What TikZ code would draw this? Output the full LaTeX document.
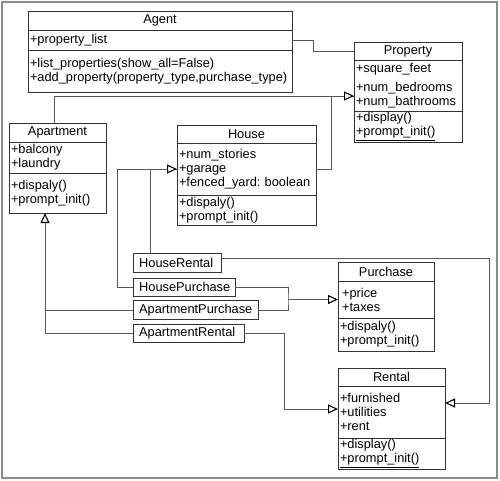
\documentclass[tikz,border=0pt]{standalone}
\usepackage{fontspec}
\setmainfont{Liberation Sans}
\usetikzlibrary{positioning,arrows.meta}

\tikzset{
  umltitle/.style={draw=black!80, anchor=north west, inner sep=0pt, outer sep=0pt, align=center},
  umlpart/.style={draw=black!80, below=0pt of #1, inner xsep=2pt, inner ysep=0pt, outer sep=0pt, align=left},
  plainbox/.style={draw=black!80, anchor=north west, inner xsep=6pt, inner ysep=0pt, align=left},
  assoc/.style={draw=black!65},
  inherit/.style={draw=black!65, -{Triangle[open, fill=white, color=black, line width=1.1pt, length=10pt, width=9pt]}},
}

\begin{document}
\begin{tikzpicture}
  [x=1pt, y=-1pt, font=\fontsize{12.8pt}{14pt}\selectfont]
  \useasboundingbox (0,0) rectangle (500,481);
  \draw[black!45, line width=1.5pt] (2,2) rectangle (497,478);

  \node[umltitle, minimum width=264pt, minimum height=19pt] (agent) at (28,11) {Agent};
  \node[umlpart=agent, text width=260pt, minimum height=20pt] (agent-a) {+property\_list};
  \node[umlpart=agent-a, text width=260pt, minimum height=42pt] (agent-m)
    {+list\_properties(show\_all=False)\\+add\_property(property\_type,purchase\_type)};

  \node[umltitle, minimum width=108pt, minimum height=18pt] (property) at (354,42) {Property};
  \node[umlpart=property, text width=104pt, minimum height=51pt] (property-a)
    {+square\_feet\\[5pt]+num\_bedrooms\\+num\_bathrooms};
  \node[umlpart=property-a, text width=104pt, minimum height=31pt] (property-m)
    {+display()\\\underline{+prompt\_init()}};

  \node[umltitle, minimum width=97pt, minimum height=19pt] (apartment) at (9,123) {Apartment};
  \node[umlpart=apartment, text width=93pt, minimum height=31pt] (apartment-a)
    {+balcony\\+laundry};
  \node[umlpart=apartment-a, text width=93pt, minimum height=40pt] (apartment-m)
    {+dispaly()\\+prompt\_init()};

  \node[umltitle, minimum width=139pt, minimum height=18pt] (house) at (177,125) {House};
  \node[umlpart=house, text width=135pt, minimum height=52pt] (house-a)
    {+num\_stories\\+garage\\+fenced\_yard:\ boolean};
  \node[umlpart=house-a, text width=135pt, minimum height=30pt] (house-m)
    {+dispaly()\\+prompt\_init()};

  \node[umltitle, minimum width=96pt, minimum height=19pt] (purchase) at (338,262) {Purchase};
  \node[umlpart=purchase, text width=92pt, minimum height=37pt] (purchase-a)
    {\,+price\\\,+taxes};
  \node[umlpart=purchase-a, text width=92pt, minimum height=33pt] (purchase-m)
    {+dispaly()\\+prompt\_init()};

  \node[umltitle, minimum width=107pt, minimum height=18pt] (rental) at (338,368) {Rental};
  \node[umlpart=rental, text width=103pt, minimum height=52pt] (rental-a)
    {+furnished\\+utilities\\+rent};
  \node[umlpart=rental-a, text width=103pt, minimum height=31pt] (rental-m)
    {+display()\\\underline{+prompt\_init()}};

  \node[plainbox, text width=76pt, minimum height=19pt] (houserental) at (133,253) {HouseRental};
  \node[plainbox, text width=90pt, minimum height=18pt] (housepurchase) at (133,278) {HousePurchase};
  \node[plainbox, text width=113pt, minimum height=19pt] (aptpurchase) at (133,300) {ApartmentPurchase};
  \node[plainbox, text width=99pt, minimum height=18pt] (aptrental) at (133,324) {ApartmentRental};

  \coordinate (toproperty) at ([yshift=-10.5pt]property-a.west);
  \coordinate (purchasejoin) at ([xshift=-50pt]purchase-a.west);

  \draw[assoc] (agent-a.east) -- ++(21,0) |- (property.west);
  \draw[assoc] (house-a.east) -- ++(15,0) |- (toproperty);
  \draw[inherit] ([xshift=-3pt]apartment.north) |- (toproperty);

  \draw[assoc] (aptpurchase.west) -| ([xshift=-12.5pt]apartment-m.south);
  \draw[inherit] (aptrental.west) -| ([xshift=-12.5pt]apartment-m.south);

  \draw[assoc] ([xshift=-27pt]houserental.north) |- (house-a.west);
  \draw[inherit] (housepurchase.west) -- ++(-16,0) |- (house-a.west);

  \draw[assoc] (housepurchase.east) -| (purchasejoin) |- (aptpurchase.east);
  \draw[inherit] (purchasejoin) -- (purchase-a.west);

  \draw[inherit] ([yshift=5pt]houserental.east) -- ++(268,0) |- ([yshift=9pt]rental-a.east);
  \draw[inherit] (aptrental.east) -- ++(40,0) |- ([yshift=3pt]rental-a.west);

\end{tikzpicture}
\end{document}
